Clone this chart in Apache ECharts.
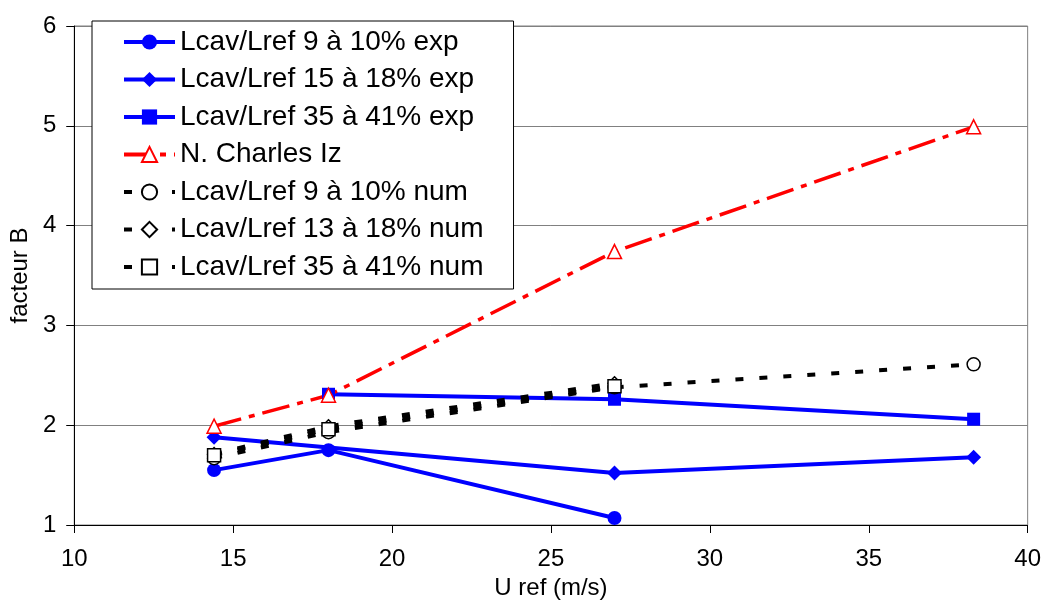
<!DOCTYPE html>
<html>
<head>
<meta charset="utf-8">
<script src="https://cdn.jsdelivr.net/npm/echarts@6/dist/echarts.min.js"></script>
<style>html,body{margin:0;padding:0;background:#fff;}#c{width:1044px;height:605px;}</style>
</head>
<body>
<div id="c"></div>
<script>
// Data
const uRef4 = [14.4, 18, 27, 38.3];
const exp9X = [14.4, 18, 27];
const exp9Y = [1.55, 1.75, 1.07];
const exp15X = [14.4, 27, 38.3];
const exp15Y = [1.88, 1.52, 1.68];
const exp35X = [18, 27, 38.3];
const exp35Y = [2.31, 2.26, 2.06];
const charlesY = [1.99, 2.3, 3.74, 4.99];
const num9Y = [1.67, 1.93, 2.38, 2.61];
const num13X = [14.4, 18, 27];
const num13Y = [1.71, 1.99, 2.42];
const num35X = [14.4, 18, 27];
const num35Y = [1.70, 1.96, 2.39];
const names = [
  'Lcav/Lref 9 à 10% exp',
  'Lcav/Lref 15 à 18% exp',
  'Lcav/Lref 35 à 41% exp',
  'N. Charles Iz',
  'Lcav/Lref 9 à 10% num',
  'Lcav/Lref 13 à 18% num',
  'Lcav/Lref 35 à 41% num'
];
const xTicks = [10, 15, 20, 25, 30, 35, 40];
const yTicks = [1, 2, 3, 4, 5, 6];

const zip = (xs, ys) => xs.map((x, i) => [x, ys[i]]);
const FONT = 'Liberation Sans, Arial, sans-serif';
const BLUE = '#0000ff';

function blue(name, xs, ys, sym, size) {
  return {
    name, type: 'line', data: zip(xs, ys), symbol: sym, symbolSize: size,
    lineStyle: { color: BLUE, width: 4 }, itemStyle: { color: BLUE },
    animation: false
  };
}
function num(name, xs, ys, sym) {
  return {
    name, type: 'line', data: zip(xs, ys), symbol: sym, symbolSize: 13,
    lineStyle: { color: '#000', width: 4, type: [8, 16] },
    itemStyle: { color: '#fff', borderColor: '#000', borderWidth: 1.5 },
    animation: false
  };
}

const chart = echarts.init(document.getElementById('c'));
chart.setOption({
  backgroundColor: '#fff',
  grid: { left: 74, right: 16, top: 26, bottom: 80, show: true, borderColor: '#808080', borderWidth: 1 },
  xAxis: {
    type: 'value', min: xTicks[0], max: xTicks[xTicks.length - 1], interval: 5,
    name: 'U ref (m/s)', nameLocation: 'middle', nameGap: 50,
    nameTextStyle: { fontFamily: FONT, fontSize: 24, color: '#000' },
    axisLine: { lineStyle: { color: '#000', width: 1 } },
    axisTick: { show: true, length: 8, lineStyle: { color: '#000' } },
    axisLabel: { fontFamily: FONT, fontSize: 24, color: '#000', margin: 22 },
    splitLine: { show: false }
  },
  yAxis: {
    type: 'value', min: yTicks[0], max: yTicks[yTicks.length - 1], interval: 1,
    name: 'facteur B', nameLocation: 'middle', nameGap: 40,
    nameTextStyle: { fontFamily: FONT, fontSize: 24, color: '#000' },
    axisLine: { show: true, lineStyle: { color: '#000', width: 1 } },
    axisTick: { show: true, length: 8, lineStyle: { color: '#000' } },
    axisLabel: { fontFamily: FONT, fontSize: 24, color: '#000', margin: 18 },
    splitLine: { show: true, lineStyle: { color: '#808080', width: 1 } }
  },
  legend: {
    orient: 'vertical', left: 92, top: 21,
    padding: [7, 30, 8, 30], itemGap: 9.5,
    itemWidth: 51, itemHeight: 19,
    backgroundColor: '#fff', borderColor: '#000', borderWidth: 1, borderRadius: 0,
    lineStyle: { width: 4 },
    textStyle: { fontFamily: FONT, fontSize: 28, color: '#000' },
    data: names
  },
  series: [
    blue(names[0], exp9X, exp9Y, 'circle', 14),
    blue(names[1], exp15X, exp15Y, 'diamond', 15),
    blue(names[2], exp35X, exp35Y, 'rect', 13),
    {
      name: names[3], type: 'line', data: zip(uRef4, charlesY), symbol: 'triangle', symbolSize: 14,
      lineStyle: { color: '#ff0000', width: 3.5, type: [28, 8, 6, 8] },
      itemStyle: { color: '#fff', borderColor: '#ff0000', borderWidth: 1.5 },
      animation: false
    },
    num(names[4], uRef4, num9Y, 'circle'),
    num(names[5], num13X, num13Y, 'diamond'),
    num(names[6], num35X, num35Y, 'rect')
  ]
});
</script>
</body>
</html>
